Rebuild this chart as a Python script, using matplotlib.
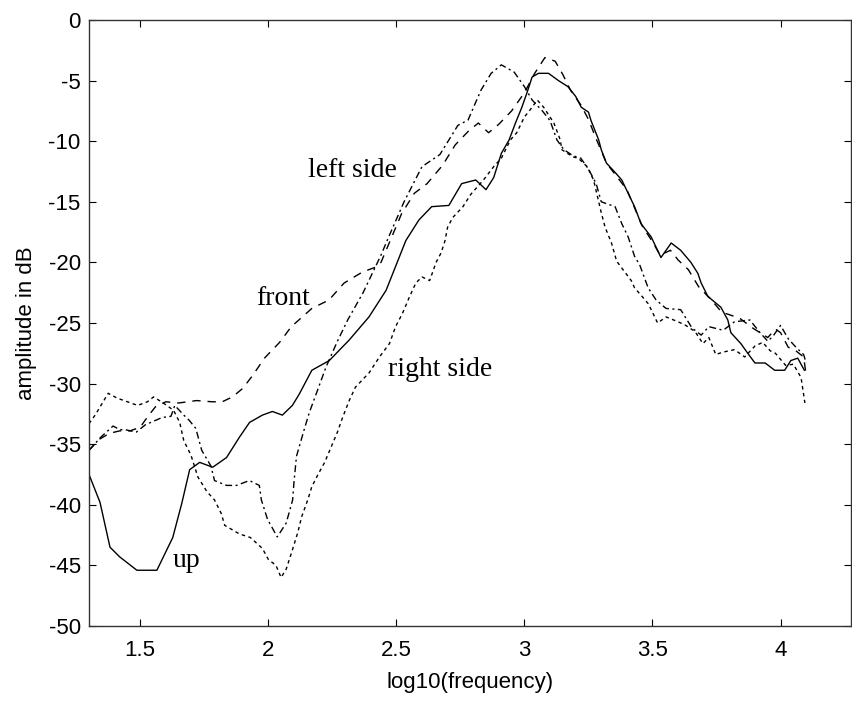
import matplotlib
matplotlib.use("Agg")
import matplotlib.pyplot as plt

plt.rcParams['axes.unicode_minus'] = False

# up (solid)
up_x = [1.3, 1.343, 1.382, 1.42, 1.487, 1.565, 1.627, 1.662, 1.693, 1.732, 1.783, 1.837,
        1.888, 1.927, 1.977, 2.016, 2.055, 2.094, 2.12, 2.17, 2.238, 2.316, 2.393, 2.46,
        2.537, 2.588, 2.638, 2.705, 2.755, 2.81, 2.85, 2.88, 2.91, 2.94, 2.965, 2.99,
        3.01, 3.03, 3.055, 3.094, 3.133, 3.17, 3.2, 3.222, 3.25, 3.26, 3.29, 3.3, 3.32,
        3.355, 3.38, 3.405, 3.43, 3.455, 3.495, 3.533, 3.573, 3.61, 3.65, 3.677, 3.69,
        3.716, 3.767, 3.794, 3.806, 3.845, 3.872, 3.9, 3.94, 3.977, 4.016, 4.04, 4.067, 4.093]
up_y = [-37.5, -39.8, -43.5, -44.3, -45.4, -45.4, -42.7, -39.9, -37.1, -36.5, -36.9, -36.1,
        -34.4, -33.2, -32.6, -32.3, -32.6, -31.8, -30.9, -28.9, -28.1, -26.4, -24.5, -22.3,
        -18.2, -16.5, -15.4, -15.3, -13.5, -13.2, -14.0, -13.0, -11.0, -9.9, -8.5, -7.2,
        -6.0, -4.7, -4.4, -4.4, -5.0, -5.5, -6.3, -7.2, -7.6, -8.3, -9.9, -10.7, -11.8,
        -12.6, -13.2, -14.3, -15.4, -16.8, -17.9, -19.6, -18.4, -19.0, -20.0, -20.9, -21.7,
        -22.8, -23.7, -24.75, -25.8, -26.7, -27.5, -28.3, -28.3, -28.9, -28.9, -28.1, -27.9, -28.9]

# front (dashed)
front_x = [1.3, 1.34, 1.38, 1.42, 1.46, 1.5, 1.53, 1.56, 1.6, 1.65, 1.72, 1.78, 1.82, 1.86,
           1.9, 1.94, 1.985, 2.044, 2.09, 2.17, 2.237, 2.296, 2.367, 2.418, 2.44, 2.48,
           2.52, 2.57, 2.62, 2.68, 2.73, 2.78, 2.82, 2.86, 2.9, 2.95, 3.0, 3.04, 3.08,
           3.12, 3.15, 3.18, 3.22, 3.25, 3.28, 3.32, 3.36, 3.4, 3.43, 3.46, 3.5, 3.53,
           3.57, 3.6, 3.64, 3.68, 3.73, 3.77, 3.84, 3.89, 3.95, 3.98, 4.0, 4.03, 4.06, 4.09, 4.1]
front_y = [-35.5, -34.6, -34.1, -33.9, -33.9, -33.6, -32.7, -31.9, -31.5, -31.6, -31.4, -31.5,
           -31.5, -31.1, -30.4, -29.3, -27.9, -26.6, -25.3, -23.8, -23.1, -21.7, -20.8, -20.4,
           -20.0, -18.0, -16.0, -14.3, -13.5, -12.0, -10.3, -9.2, -8.5, -9.3, -8.6, -7.5,
           -6.0, -4.4, -3.1, -3.4, -4.5, -5.8, -7.0, -8.2, -9.8, -11.8, -12.9, -14.0, -15.5,
           -17.0, -18.3, -19.4, -19.0, -19.8, -20.6, -22.0, -23.1, -24.1, -24.6, -25.4,
           -26.2, -25.5, -25.8, -27.0, -27.3, -27.8, -29.3]

# left side (dash-dot)
left_x = [1.3, 1.347, 1.394, 1.42, 1.44, 1.485, 1.52, 1.585, 1.62, 1.635, 1.67, 1.69, 1.717,
          1.74, 1.776, 1.79, 1.837, 1.876, 1.926, 1.965, 1.973, 1.997, 2.035, 2.07, 2.095,
          2.1, 2.11, 2.125, 2.14, 2.16, 2.226, 2.27, 2.31, 2.37, 2.44, 2.47, 2.53, 2.6,
          2.67, 2.74, 2.78, 2.83, 2.87, 2.91, 2.96, 3.0, 3.03, 3.07, 3.1, 3.127, 3.154,
          3.19, 3.22, 3.25, 3.28, 3.3, 3.354, 3.38, 3.405, 3.43, 3.45, 3.483, 3.514, 3.553,
          3.61, 3.654, 3.69, 3.72, 3.776, 3.82, 3.88, 3.92, 3.95, 3.97, 4.0, 4.03, 4.06, 4.09, 4.1]
left_y = [-35.5, -34.4, -33.5, -33.8, -33.8, -34.0, -33.4, -32.8, -32.7, -31.8, -32.6, -33.0,
          -33.7, -35.5, -36.8, -38.0, -38.4, -38.4, -38.0, -38.4, -39.6, -41.2, -42.65, -41.5,
          -39.6, -38.2, -36.0, -34.9, -33.8, -32.4, -28.6, -26.5, -24.75, -22.5, -19.4,
          -17.9, -15.0, -12.1, -11.1, -8.7, -8.25, -5.8, -4.4, -3.7, -4.3, -5.5, -6.6, -7.5,
          -8.3, -9.9, -10.7, -11.2, -11.4, -12.3, -13.5, -15.0, -15.4, -16.8, -17.9, -19.5,
          -20.2, -22.1, -23.1, -23.8, -23.9, -25.4, -26.0, -25.3, -25.6, -24.9, -24.75,
          -25.8, -26.5, -26.1, -25.2, -26.3, -27.0, -27.6, -28.3]

# right side (dotted)
right_x = [1.3, 1.324, 1.375, 1.41, 1.45, 1.49, 1.528, 1.552, 1.59, 1.63, 1.654, 1.67, 1.698,
           1.725, 1.76, 1.79, 1.816, 1.83, 1.887, 1.93, 1.977, 2.0, 2.03, 2.05, 2.07, 2.09,
           2.115, 2.13, 2.154, 2.17, 2.194, 2.22, 2.24, 2.27, 2.29, 2.316, 2.34, 2.394,
           2.434, 2.473, 2.497, 2.524, 2.55, 2.576, 2.6, 2.63, 2.655, 2.675, 2.69, 2.7, 2.72,
           2.76, 2.79, 2.84, 2.88, 2.91, 2.945, 2.97, 3.0, 3.03, 3.05, 3.075, 3.115, 3.14,
           3.146, 3.19, 3.21, 3.245, 3.27, 3.3, 3.315, 3.34, 3.36, 3.385, 3.417, 3.43, 3.455,
           3.483, 3.495, 3.52, 3.553, 3.6, 3.63, 3.666, 3.697, 3.72, 3.747, 3.776, 3.82, 3.86,
           3.9, 3.93, 3.96, 3.98, 4.02, 4.05, 4.08, 4.095]
right_y = [-33.3, -32.6, -30.8, -31.2, -31.5, -31.8, -31.5, -31.1, -31.6, -32.2, -33.2, -34.7,
           -35.9, -37.7, -38.9, -39.6, -40.7, -41.7, -42.4, -42.7, -43.6, -44.5, -45.0, -46.0,
           -45.3, -44.0, -42.3, -41.0, -39.6, -38.5, -37.5, -36.5, -35.5, -34.0, -32.8, -31.4,
           -30.3, -29.1, -27.8, -26.7, -25.3, -24.2, -22.9, -21.7, -21.2, -21.5, -20.0, -19.2,
           -18.2, -17.1, -16.3, -15.4, -14.4, -13.2, -12.1, -11.4, -9.9, -9.3, -8.0, -7.2,
           -6.6, -7.2, -8.5, -9.9, -10.7, -11.3, -11.4, -12.1, -13.2, -15.9, -17.1, -18.4,
           -19.9, -20.6, -21.5, -22.1, -22.7, -23.4, -23.9, -25.0, -24.5, -24.9, -25.2, -25.7,
           -26.7, -26.2, -27.6, -27.4, -27.2, -27.8, -26.9, -26.6, -27.3, -27.5, -28.5, -28.4,
           -29.5, -31.6]

fig = plt.figure(figsize=(8.53, 7.01), dpi=100)
ax = fig.add_axes([89 / 853, 1 - 626 / 701, (851 - 89) / 853, (626 - 20) / 701])

ax.plot(up_x, up_y, color='black', lw=1.0, ls='-')
ax.plot(front_x, front_y, color='black', lw=1.0, dashes=(6, 5))
ax.plot(left_x, left_y, color='black', lw=1.0, dashes=(5, 2.5, 1.5, 2.5))
ax.plot(right_x, right_y, color='black', lw=1.0, dashes=(2.5, 2.5))

ax.set_xlim(1.3, 4.275)
ax.set_ylim(-50, 0)
ax.set_xticks([1.5, 2, 2.5, 3, 3.5, 4])
ax.set_xticklabels(['1.5', '2', '2.5', '3', '3.5', '4'])
ax.set_yticks(range(-50, 1, 5))
ax.tick_params(direction='in', length=5, width=0.8, top=True, right=True, labelsize=16)
ax.tick_params(axis='x', pad=10)
ax.tick_params(axis='y', pad=6)
for lbl in ax.get_xticklabels() + ax.get_yticklabels():
    lbl.set_family('Liberation Sans')
for s in ax.spines.values():
    s.set_linewidth(1.0)
    s.set_color('#333333')

ax.set_xlabel('log10(frequency)', fontsize=16, family='Liberation Sans', labelpad=8)
ax.set_ylabel('amplitude in dB', fontsize=16, family='Liberation Sans', labelpad=8)

serif = dict(family='Liberation Serif', fontsize=20, ha='center', va='center')
ax.text(2.33, -12.4, 'left side', **serif)
ax.text(2.056, -23.0, 'front', **serif)
ax.text(2.67, -28.8, 'right side', **serif)
ax.text(1.68, -44.6, 'up', **serif)

fig.savefig('out.png', dpi=100)
